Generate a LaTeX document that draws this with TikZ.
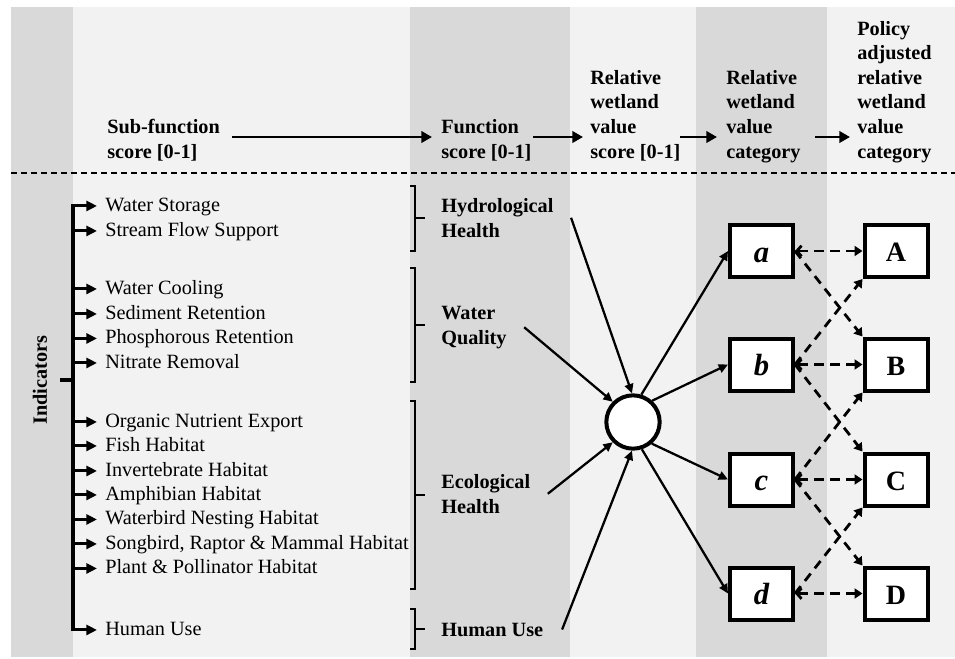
\documentclass[tikz,border=0pt]{standalone}
\usepackage{fontspec}
\setmainfont{Liberation Serif}
\usetikzlibrary{arrows.meta}
\definecolor{bgdark}{HTML}{D9D9D9}
\definecolor{bglight}{HTML}{F2F2F2}
\begin{document}
\begin{tikzpicture}[x=0.75pt,y=-0.75pt,
  txt/.style={inner sep=0pt, anchor=base west, font=\fontsize{15.2pt}{18.45pt}\selectfont},
  btxt/.style={inner sep=0pt, anchor=base west, align=left, font=\fontsize{15.2pt}{18.45pt}\selectfont\bfseries},
  ind/.style={line width=2.3pt, -{Triangle[length=8pt,width=7.5pt]}},
  hdr/.style={line width=2.2pt, -{Triangle[length=8pt,width=8.5pt]}},
  brk/.style={line width=2pt},
  main/.style={line width=1.7pt, -{Triangle[length=7pt,width=6.5pt]}},
  dsh/.style={line width=2.1pt, dash pattern=on 7pt off 5pt, -{Triangle[length=6pt,width=7.5pt]}},
  dshh/.style={dsh, {Straight Barb[length=3.5pt,width=8pt]}-{Triangle[length=6pt,width=7.5pt]}},
  lbox/.style={draw, line width=3pt, fill=white, minimum width=47.25pt, minimum height=39pt, inner sep=0pt, text height=16.5pt, text depth=0pt, font=\fontsize{23pt}{26pt}\selectfont\bfseries\itshape},
  ubox/.style={draw, line width=3pt, fill=white, minimum width=47.25pt, minimum height=39pt, inner sep=0pt, text height=16pt, text depth=0pt, font=\fontsize{21pt}{24pt}\selectfont\bfseries},
]
\useasboundingbox (0,0) rectangle (955,658);
\fill[white] (0,0) rectangle (955,658);
% column backgrounds
\fill[bgdark] (11,7) rectangle (73,657);
\fill[bglight] (73,7) rectangle (410,657);
\fill[bgdark] (410,7) rectangle (570,657);
\fill[bglight] (570,7) rectangle (696,657);
\fill[bgdark] (696,7) rectangle (827,657);
\fill[bglight] (827,7) rectangle (955,657);
% separator
\draw[line width=2.2pt, dash pattern=on 4.5pt off 3pt] (11,173) -- (955,173);

% header (base anchor = baseline of last line)
\node[btxt] (sf) at (107,158) {Sub-function\\score [0-1]};
\node[btxt] (fs) at (441,158) {Function\\score [0-1]};
\node[btxt] (rv) at (590,158) {Relative\\wetland\\value\\score [0-1]};
\node[btxt] (rc) at (726,158) {Relative\\wetland\\value\\category};
\node[btxt] (pc) at (857,158) {Policy\\adjusted\\relative\\wetland\\value\\category};
\coordinate (h1s) at (232,137); \coordinate (h1e) at (432,137);
\coordinate (h2s) at (533,137); \coordinate (h2e) at (583,137);
\coordinate (h3s) at (680,137); \coordinate (h3e) at (717,137);
\coordinate (h4s) at (815,137); \coordinate (h4e) at (850,137);
\draw[hdr] (h1s) -- (h1e);
\draw[hdr] (h2s) -- (h2e);
\draw[hdr] (h3s) -- (h3e);
\draw[hdr] (h4s) -- (h4e);

% indicator items
\node[txt] (i1) at (105,211) {Water Storage};
\node[txt] (i2) at (105,236) {Stream Flow Support};
\node[txt] (i3) at (105,294) {Water Cooling};
\node[txt] (i4) at (105,319) {Sediment Retention};
\node[txt] (i5) at (105,343.5) {Phosphorous Retention};
\node[txt] (i6) at (105,368) {Nitrate Removal};
\node[txt] (i7) at (105,427) {Organic Nutrient Export};
\node[txt] (i8) at (105,451) {Fish Habitat};
\node[txt] (i9) at (105,476) {Invertebrate Habitat};
\node[txt] (i10) at (105,500) {Amphibian Habitat};
\node[txt] (i11) at (105,524.5) {Waterbird Nesting Habitat};
\node[txt] (i12) at (105,549) {Songbird, Raptor \& Mammal Habitat};
\node[txt] (i13) at (105,573.5) {Plant \& Pollinator Habitat};
\node[txt] (i14) at (105,635) {Human Use};
\coordinate (sp) at (73,0);
\foreach \i in {1,...,14} {
  \coordinate (t\i) at ([xshift=-6pt,yshift=1.5pt]i\i.mid west);
}
\draw[ind] (t14 -| sp) |- (t1);
\draw[ind] (t1 -| sp) |- (t14);
\foreach \i in {2,...,13} {
  \draw[ind] (t\i -| sp) -- (t\i);
}
\node[btxt, anchor=center, rotate=90] (indl) at (40,380) {Indicators};
\coordinate (stub) at (60,380);
\draw[line width=2.3pt] (stub) -- (stub -| sp);

% brackets
\draw[brk] (410,186) -| (415,251) -- (410,251); \draw[brk] (415,218) -- (425,218);
\draw[brk] (410,268) -| (415,382) -- (410,382); \draw[brk] (415,325) -- (425,325);
\draw[brk] (410,401) -| (415,589) -- (410,589); \draw[brk] (415,495) -- (425,495);
\draw[brk] (410,609) -| (415,649) -- (410,649); \draw[brk] (415,629) -- (425,629);

% function labels
\node[btxt] (hh) at (441,237) {Hydrological\\Health};
\node[btxt] (wq) at (441,344) {Water\\Quality};
\node[btxt] (eh) at (441,513) {Ecological\\Health};
\node[btxt] (hu) at (441,636) {Human Use};

% aggregation circle
\node[circle, draw, line width=3pt, fill=white, minimum size=40pt, inner sep=0pt] (circ) at (633,422) {};

% category boxes
\node[lbox] (a) at (761.5,251) {a};
\node[lbox] (b) at (761.5,364.5) {b};
\node[lbox] (c) at (761.5,479.5) {c};
\node[lbox] (d) at (761.5,593.5) {d};
\node[ubox] (A) at (896,251) {A};
\node[ubox] (B) at (896,364.5) {B};
\node[ubox] (C) at (896,479.5) {C};
\node[ubox] (D) at (896,593.5) {D};

% into circle
\draw[main] ([xshift=13pt]hh.east) -- (circ.92);
\draw[main] ([xshift=13pt]wq.east) -- (circ.135);
\draw[main] ([xshift=13pt]eh.east) -- (circ.225);
\draw[main] ([xshift=14pt]hu.east) -- (circ.268);
% out of circle
\draw[main] (circ.73) -- (a.west);
\draw[main] (circ.48) -- (b.west);
\draw[main] (circ.-49) -- (c.west);
\draw[main] (circ.-72) -- (d.west);

% policy adjustments
\draw[dshh] (a.east) -- (A.west);
\draw[dshh] (b.east) -- (B.west);
\draw[dshh] (c.east) -- (C.west);
\draw[dshh] (d.east) -- (D.west);
\draw[dsh] (a.east) -- (B.north west);
\draw[dsh] (b.east) -- (A.south west);
\draw[dsh] (b.east) -- (C.north west);
\draw[dsh] (c.east) -- (B.south west);
\draw[dsh] (c.east) -- (D.north west);
\draw[dsh] (d.east) -- (C.south west);
\end{tikzpicture}
\end{document}
